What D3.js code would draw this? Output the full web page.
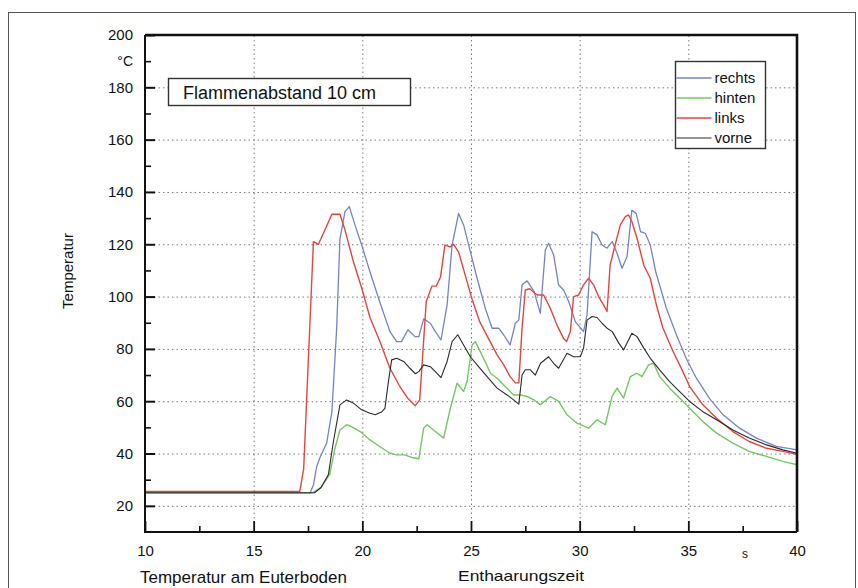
<!DOCTYPE html>
<html>
<head>
<meta charset="utf-8">
<script src="https://cdn.jsdelivr.net/npm/d3@7"></script>
<style>
    body { margin: 0; background: #fff; }
    svg { display: block; font-family: "Liberation Sans", Arial, sans-serif; }
    .grid line { stroke: #7a7a7a; stroke-width: 1; stroke-dasharray: 1.5, 3; }
    .grid path { display: none; }
    .axis path { display: none; }
    .axis line { stroke: #111; }
    .axis text { fill: #111; }
</style>
</head>
<body>
<svg id="chart" width="858" height="588"></svg>
<script>

// Temperaturverlauf je Messstelle, [Zeit s, Temperatur °C]
var rechts = [[10,25],[17.6,25],[17.75,28],[17.9,35],[18.05,38.5],[18.36,44],[18.6,56],[18.82,88],[18.97,122],
    [19.2,132.5],[19.4,134.4],[19.66,127.4],[19.97,119.7],[20.35,109.5],[20.8,98],[21.27,86.6],[21.58,82.8],
    [21.8,82.8],[22.1,87.3],[22.42,84.7],[22.6,84.7],[22.82,91.5],[23.13,89.8],[23.36,86.6],[23.62,83.4],
    [23.9,96.8],[24.13,119.7],[24.43,131.8],[24.66,127.4],[24.97,117.2],[25.28,107],[25.66,95.5],[25.97,87.9],
    [26.27,87.9],[26.5,85.4],[26.8,81.5],[27.04,89.8],[27.2,91],[27.35,104.5],[27.58,106],[27.9,102],
    [28.19,93.6],[28.42,117.8],[28.57,120.4],[28.8,116],[29.03,104.5],[29.26,102.5],[29.5,98],[29.8,90.4],
    [30.18,86.6],[30.34,93],[30.57,124.8],[30.8,123.6],[31.03,119.7],[31.26,118.5],[31.5,121],[31.72,116.6],
    [31.95,110.8],[32.18,115.3],[32.4,133],[32.6,131.8],[32.8,124.8],[33.02,124.2],[33.25,119.7],[33.5,109.5],
    [33.99,95.5],[34.45,85.4],[34.9,76.4],[35.37,68.8],[35.98,61],[36.6,54.8],[37.36,49.7],[38.13,45.9],
    [39.05,42.7],[40,41.4]];

var hinten = [[10,25],[17.7,25],[18.1,27],[18.5,32],[18.74,42],[18.97,49],[19.28,51],[19.5,50.3],[19.9,48.4],
    [20.35,45.2],[20.8,42.7],[21.27,40.1],[21.58,39.5],[21.96,39.5],[22.27,38.5],[22.6,38],[22.82,49.7],
    [22.98,51],[23.36,48.4],[23.74,45.9],[24.05,57.3],[24.36,66.9],[24.66,63.7],[24.82,67.5],[25.05,81.5],
    [25.2,82.8],[25.5,77.7],[25.9,70.7],[26.2,68.8],[26.58,65.6],[26.96,62.4],[27.27,62.4],[27.58,61.8],
    [27.9,60.5],[28.19,58.6],[28.65,61.8],[29.03,59.9],[29.42,54.8],[29.88,51.6],[30.41,49.7],[30.8,52.9],
    [31.18,51],[31.49,61.8],[31.72,65],[32.02,61.2],[32.33,69.4],[32.64,70.7],[32.87,69.4],[33.17,73.9],
    [33.4,74.5],[33.68,69.4],[34.14,65],[34.6,61.2],[35.06,57.3],[35.67,52.2],[36.3,47.8],[37.05,44],
    [37.8,40.8],[38.6,38.9],[39.35,37],[40,35.7]];

var links = [[10,25.5],[17.12,25.5],[17.3,34],[17.75,121],[17.98,120],[18.2,124],[18.6,131.5],[18.97,131.5],
    [19.2,125.5],[19.6,113],[20,102.5],[20.35,92],[20.8,83],[21.27,72.6],[21.7,66],[22.1,61],[22.44,58.3],
    [22.64,60.5],[22.94,98],[23.2,104],[23.4,104],[23.6,107.6],[23.8,119.7],[24.05,119],[24.2,120],[24.43,117],
    [24.74,108],[25.05,99],[25.4,90.4],[25.8,84],[26.2,77.7],[26.5,74],[26.8,69.4],[27.04,67],[27.2,67],
    [27.35,88],[27.5,102.5],[27.7,103],[28.04,100.6],[28.34,100.6],[28.65,95.5],[28.96,89],[29.26,84],
    [29.4,82.8],[29.57,86.6],[29.72,100],[29.95,100.6],[30.18,104.5],[30.41,107],[30.64,104.5],[30.87,100],
    [31.1,96.8],[31.26,94.3],[31.4,112],[31.64,120],[31.87,127.4],[32.1,130.6],[32.25,131.2],[32.4,128.7],
    [32.64,122.3],[32.95,112],[33.25,107],[33.53,96.8],[33.83,88],[34.3,79],[34.75,71.3],[35.06,65.6],
    [35.67,58.6],[36.3,53.5],[37.05,48.4],[37.8,44.6],[38.6,42],[39.35,40.8],[40,39.7]];

var vorne = [[10,25],[17.8,25],[18.1,27],[18.44,32],[18.67,44.6],[18.97,58.6],[19.28,60.5],[19.6,59.2],
    [19.97,56.7],[20.35,55.4],[20.6,54.8],[20.9,56],[21.04,57.3],[21.2,67.5],[21.35,75.8],[21.58,76.4],
    [21.9,75.2],[22.2,72.5],[22.44,70.5],[22.6,71.3],[22.82,73.9],[23.13,73.2],[23.36,71.3],[23.62,69],
    [23.9,75.2],[24.13,82.8],[24.39,85.4],[24.66,81.5],[24.97,77],[25.28,73.9],[25.74,69.4],[26.2,65],
    [26.66,62.4],[26.96,60.5],[27.2,58.9],[27.35,70],[27.5,72],[27.73,72],[27.96,70],[28.2,74.5],[28.57,77],
    [28.8,74.5],[29.03,72.6],[29.42,78.3],[29.72,77],[30.03,77],[30.18,80.3],[30.34,91],[30.57,92.4],
    [30.8,92],[31.03,89.8],[31.26,87.9],[31.5,86.6],[31.8,82.2],[32.02,79.6],[32.25,83.4],[32.4,86],
    [32.64,84.7],[32.95,80.3],[33.25,76.4],[33.68,72],[34.14,67.5],[34.6,63.7],[35.06,59.9],[35.67,56],
    [36.3,52.9],[37.05,49],[37.8,45.9],[38.6,43.3],[39.35,41.4],[40,40.1]];

var seriesNames = ["rechts", "hinten", "links", "vorne"];
var seriesColors = ["#7583c6", "#72c862", "#e8443c", "#2a2a2a"];
var seriesWidths = [1.3, 1.4, 1.4, 1.1];

var xMajor = [10, 15, 20, 25, 30, 35, 40];
var xMinor = [12.5, 17.5, 22.5, 27.5, 32.5, 37.5];
var yMajor = [20, 40, 60, 80, 100, 120, 140, 160, 180, 200];
var yMinor = [30, 50, 70, 90, 110, 130, 150, 170, 190];

var svg = d3.select("#chart");

var x = d3.scaleLinear().domain([10, 40]).range([145, 797]);
var y = d3.scaleLinear().domain([10, 200]).range([532, 35]);

// outer frame of the figure
svg.append("rect")
    .attr("x", 8.5).attr("y", 12.5)
    .attr("width", 847).attr("height", 600)
    .attr("fill", "none")
    .attr("stroke", "#555")
    .attr("stroke-width", 1);

// dotted grid
svg.append("g")
    .attr("class", "grid")
    .attr("transform", "translate(" + x(10) + ",0)")
    .call(d3.axisLeft(y).tickValues(yMajor.slice(0, -1)).tickSize(-(x(40) - x(10))).tickFormat(""));

svg.append("g")
    .attr("class", "grid")
    .attr("transform", "translate(0," + y(10) + ")")
    .call(d3.axisBottom(x).tickValues(xMajor.slice(1, -1)).tickSize(-(y(10) - y(200))).tickFormat(""));

// title box
svg.append("rect")
    .attr("x", 168.5).attr("y", 78.5)
    .attr("width", 242).attr("height", 27)
    .attr("fill", "#fff")
    .attr("stroke", "#333")
    .attr("stroke-width", 1.4);

svg.append("text")
    .attr("x", 183).attr("y", 98.5)
    .attr("font-size", 18)
    .attr("fill", "#111")
    .text("Flammenabstand 10 cm");

// curves
var line = d3.line()
    .x(function (d) { return x(d[0]); })
    .y(function (d) { return y(d[1]); });

var data = [rechts, hinten, links, vorne];

svg.append("g")
    .selectAll("path")
    .data(data)
    .enter().append("path")
    .attr("d", line)
    .attr("fill", "none")
    .attr("stroke", function (d, i) { return seriesColors[i]; })
    .attr("stroke-width", function (d, i) { return seriesWidths[i]; })
    .attr("stroke-linejoin", "round");

// plot border: thick top and right
svg.append("path")
    .attr("d", "M" + x(10) + "," + y(200) + "H" + x(40) + "V" + y(10))
    .attr("fill", "none")
    .attr("stroke", "#111")
    .attr("stroke-width", 2.6);

svg.append("path")
    .attr("d", "M" + x(10) + "," + y(200) + "V" + y(10) + "H" + x(40))
    .attr("fill", "none")
    .attr("stroke", "#111")
    .attr("stroke-width", 2);

// y axis
svg.append("g")
    .attr("class", "axis")
    .attr("transform", "translate(" + x(10) + ",0)")
    .call(d3.axisLeft(y).tickValues(yMajor).tickSizeInner(-10).tickSizeOuter(0).tickPadding(12))
    .call(function (g) {
        g.selectAll("line").attr("stroke-width", 2);
        g.selectAll("text").attr("font-size", 15).attr("font-family", null);
    });

svg.append("g")
    .attr("class", "axis")
    .attr("transform", "translate(" + x(10) + ",0)")
    .call(d3.axisLeft(y).tickValues(yMinor).tickSizeInner(-6).tickSizeOuter(0).tickPadding(12)
        .tickFormat(function (d) { return d === 190 ? "°C" : ""; }))
    .call(function (g) {
        g.selectAll("line").attr("stroke-width", 1.6);
        g.selectAll("text").attr("font-size", 14).attr("font-family", null);
    });

// x axis
svg.append("g")
    .attr("class", "axis")
    .attr("transform", "translate(0," + y(10) + ")")
    .call(d3.axisBottom(x).tickValues(xMajor).tickSizeInner(-11).tickSizeOuter(0).tickPadding(13))
    .call(function (g) {
        g.selectAll("line").attr("stroke-width", 1.8);
        g.selectAll("text").attr("font-size", 15).attr("font-family", null);
    });

svg.append("g")
    .attr("class", "axis")
    .attr("transform", "translate(0," + y(10) + ")")
    .call(d3.axisBottom(x).tickValues(xMinor).tickSizeInner(-6).tickSizeOuter(0).tickFormat(""))
    .call(function (g) {
        g.selectAll("line").attr("stroke-width", 1.6);
    });

svg.append("text")
    .attr("x", 745).attr("y", 558)
    .attr("text-anchor", "middle")
    .attr("font-size", 12)
    .attr("fill", "#111")
    .text("s");

// axis titles
svg.append("text")
    .attr("transform", "translate(73,271) rotate(-90)")
    .attr("text-anchor", "middle")
    .attr("font-size", 15)
    .attr("fill", "#111")
    .text("Temperatur");

svg.append("text")
    .attr("x", 140).attr("y", 583)
    .attr("font-size", 17)
    .attr("fill", "#111")
    .text("Temperatur am Euterboden");

svg.append("text")
    .attr("x", 458).attr("y", 581)
    .attr("font-size", 15)
    .attr("textLength", 126)
    .attr("lengthAdjust", "spacingAndGlyphs")
    .attr("fill", "#111")
    .text("Enthaarungszeit");

// legend
var legend = svg.append("g").attr("transform", "translate(675.5,61.5)");

legend.append("rect")
    .attr("width", 90).attr("height", 87)
    .attr("fill", "#fff")
    .attr("stroke", "#333")
    .attr("stroke-width", 1.4);

var item = legend.selectAll("g.item")
    .data(seriesNames)
    .enter().append("g")
    .attr("class", "item")
    .attr("transform", function (d, i) { return "translate(0," + (16.5 + i * 20) + ")"; });

item.append("line")
    .attr("x1", 1).attr("x2", 36)
    .attr("stroke", function (d, i) { return seriesColors[i]; })
    .attr("stroke-width", function (d, i) { return seriesWidths[i]; });

item.append("text")
    .attr("x", 39).attr("y", 0)
    .attr("dy", "0.35em")
    .attr("font-size", 15)
    .attr("fill", "#111")
    .text(function (d) { return d; });

</script>
</body>
</html>
